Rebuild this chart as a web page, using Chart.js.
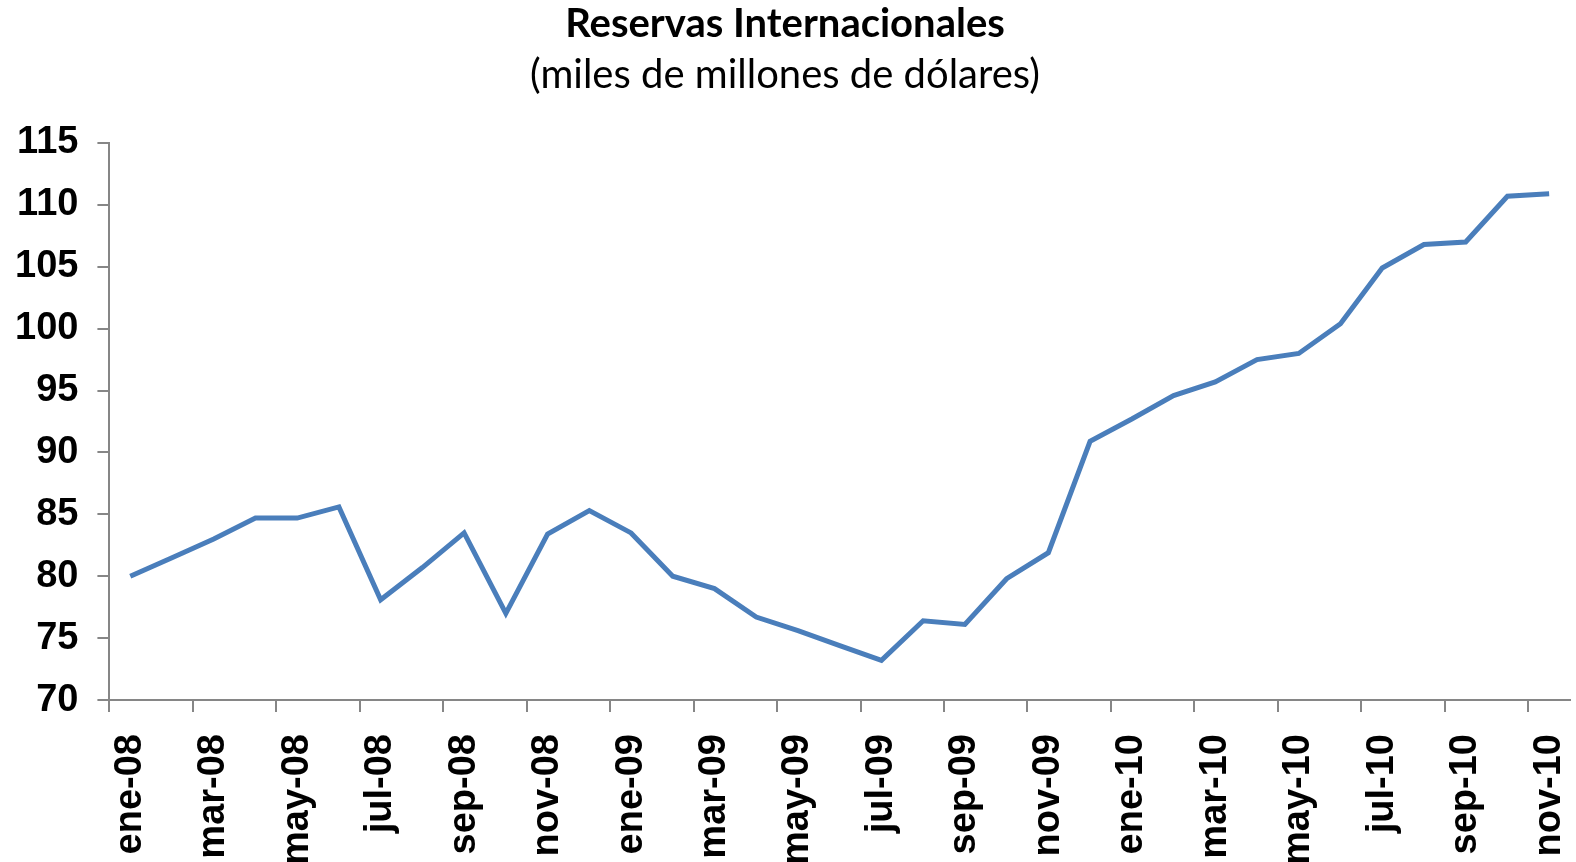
<!DOCTYPE html>
<html>
<head>
<meta charset="utf-8">
<script src="https://cdn.jsdelivr.net/npm/chart.js@4"></script>
<style>
  html, body { margin: 0; padding: 0; background: #fff; }
  #wrap { width: 1576px; height: 862px; }
</style>
</head>
<body>
<div id="wrap"><canvas id="reservasChart"></canvas></div>
<script>
/* Reservas internacionales, mensual ene-08 a nov-10 */
var meses = ['ene-08','feb-08','mar-08','abr-08','may-08','jun-08','jul-08','ago-08','sep-08','oct-08','nov-08','dic-08',
             'ene-09','feb-09','mar-09','abr-09','may-09','jun-09','jul-09','ago-09','sep-09','oct-09','nov-09','dic-09',
             'ene-10','feb-10','mar-10','abr-10','may-10','jun-10','jul-10','ago-10','sep-10','oct-10','nov-10'];

var reservas = [80.0, 81.5, 83.0, 84.7, 84.7, 85.6, 78.1, 80.7, 83.5, 77.0, 83.4, 85.3,
                83.5, 80.0, 79.0, 76.7, 75.6, 74.4, 73.2, 76.4, 76.1, 79.8, 81.9, 90.9,
                92.7, 94.6, 95.7, 97.5, 98.0, 100.4, 104.9, 106.8, 107.0, 110.7, 110.9];

var yMin = 70, yMax = 115, yPaso = 5;

var ctx = document.getElementById('reservasChart');
var gris = '#868686';

var myChart = new Chart(ctx, {
  type: 'line',
  data: {
    labels: meses,
    datasets: [{
      label: 'Reservas',
      data: reservas,
      borderColor: '#4a7ebb',
      borderWidth: 5,
      pointRadius: 0,
      tension: 0,
      fill: false
    }]
  },
  options: {
    responsive: true,
    maintainAspectRatio: false,
    animation: false,
    layout: { padding: { left: 0, right: 6, bottom: -3, top: 0 } },
    plugins: {
      legend: { display: false },
      tooltip: { enabled: false },
      title: {
        display: true,
        text: 'Reservas Internacionales',
        color: '#000',
        font: { family: 'Lato', size: 40, weight: 'bold' },
        padding: { top: 0, bottom: 3 }
      },
      subtitle: {
        display: true,
        text: '(miles de millones de dólares)',
        color: '#000',
        font: { family: 'Lato', size: 40, weight: 'normal' },
        padding: { top: 0, bottom: 44 }
      }
    },
    scales: {
      x: {
        offset: true,
        border: { color: gris, width: 2 },
        grid: {
          offset: true,
          drawOnChartArea: false,
          tickLength: 12,
          lineWidth: 2,
          color: function(c) { return c.index % 2 === 0 ? gris : 'rgba(0,0,0,0)'; }
        },
        ticks: {
          autoSkip: false,
          maxRotation: 90,
          minRotation: 90,
          padding: 22,
          color: '#000',
          font: { family: 'Liberation Sans', size: 38, weight: 'bold' },
          callback: function(v, i) { return i % 2 === 0 ? meses[i] : ''; }
        },
        // quitar el relleno extra que Chart.js deja
        afterFit: function(s) {
          s.paddingLeft = 0;
          s.paddingRight = 0;
          s.height -= s.options.ticks.padding;
        }
      },
      y: {
        min: yMin,
        max: yMax,
        border: { color: gris, width: 2 },
        grid: { drawOnChartArea: false, tickLength: 12, color: gris, lineWidth: 2 },
        ticks: {
          stepSize: yPaso,
          padding: 19,
          color: '#000',
          font: { family: 'Liberation Sans', size: 38, weight: 'bold' }
        },
        afterFit: function(s) { s.width = s.width - s.options.ticks.padding + 15; }
      }
    }
  }
});
</script>
</body>
</html>
